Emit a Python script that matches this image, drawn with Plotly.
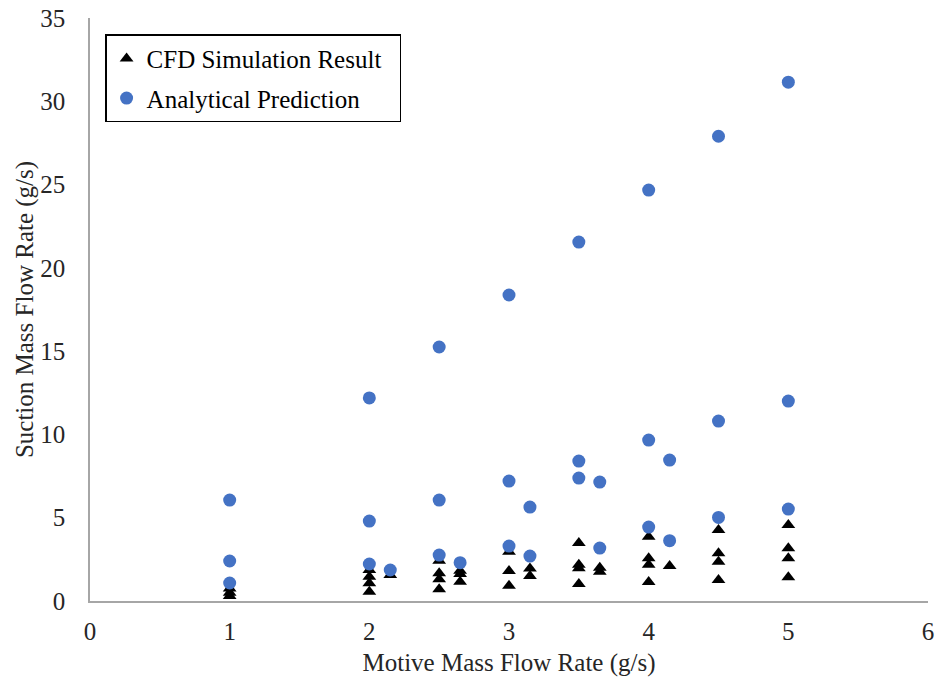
import plotly.graph_objects as go

# CFD Simulation Result (black triangles)
cfd_x = [1, 1, 1,
         2, 2, 2, 2,
         2.15,
         2.5, 2.5, 2.5, 2.5,
         2.65, 2.65, 2.65,
         3, 3, 3,
         3.15, 3.15,
         3.5, 3.5, 3.5, 3.5,
         3.65, 3.65,
         4, 4, 4, 4,
         4.15,
         4.5, 4.5, 4.5, 4.5,
         5, 5, 5, 5]
cfd_y = [0.3, 0.5, 0.75,
         1.86, 1.46, 1.06, 0.56,
         1.56,
         2.42, 1.66, 1.3, 0.7,
         1.82, 1.62, 1.16,
         2.95, 1.8, 0.92,
         1.95, 1.5,
         3.48, 2.17, 1.97, 1.02,
         2.0, 1.76,
         3.86, 2.56, 2.17, 1.14,
         2.1,
         4.26, 2.86, 2.36, 1.26,
         4.56, 3.16, 2.56, 1.42]

# Analytical Prediction (blue circles)
ana_x = [1, 1, 1,
         2, 2, 2,
         2.15,
         2.5, 2.5, 2.5,
         2.65,
         3, 3, 3,
         3.15, 3.15,
         3.5, 3.5, 3.5,
         3.65, 3.65,
         4, 4, 4,
         4.15, 4.15,
         4.5, 4.5, 4.5,
         5, 5, 5]
ana_y = [6.06, 2.4, 1.08,
         12.19, 4.8, 2.22,
         1.86,
         15.25, 6.06, 2.76,
         2.3,
         18.37, 7.2, 3.3,
         5.64, 2.7,
         21.55, 8.4, 7.38,
         7.14, 3.18,
         24.67, 9.66, 4.44,
         8.46, 3.62,
         27.9, 10.8, 5.02,
         31.15, 12.0, 5.52]

x_ticks = [0, 1, 2, 3, 4, 5, 6]
y_ticks = [0, 5, 10, 15, 20, 25, 30, 35]

font = "Liberation Serif"
fsize = 25
tcol = "#262626"

fig = go.Figure()
fig.add_trace(go.Scatter(
    x=cfd_x, y=cfd_y, mode="markers", name="CFD Simulation Result\u00a0\u00a0",
    legendgroup="a",
    marker=dict(symbol="triangle-up", size=12, color="black"),
))
fig.add_trace(go.Scatter(
    x=ana_x, y=ana_y, mode="markers", name="Analytical Prediction",
    legendgroup="b",
    marker=dict(symbol="circle", size=13, color="#4472C4"),
))

fig.update_layout(
    width=935, height=685,
    margin=dict(l=90, r=7, t=18, b=84, autoexpand=False),
    plot_bgcolor="white", paper_bgcolor="white",
    font=dict(family=font, size=fsize, color=tcol),
    showlegend=True,
    legend=dict(
        x=0.018, y=0.972, xanchor="left", yanchor="top",
        bordercolor="black", borderwidth=1.5,
        font=dict(family=font, size=fsize, color="black"),
        tracegroupgap=4, itemwidth=30,
        bgcolor="white",
    ),
    xaxis=dict(
        range=[0, 6], tickvals=x_ticks, showgrid=False, zeroline=False,
        showline=True, linecolor="#A6A6A6", linewidth=1.5,
        ticks="", ticklen=0, automargin=False, ticklabelstandoff=7,
        title=dict(text="Motive Mass Flow Rate (g/s)", standoff=10,
                   font=dict(family=font, size=fsize, color=tcol)),
        tickfont=dict(family=font, size=fsize, color=tcol),
    ),
    yaxis=dict(
        range=[0, 35], tickvals=y_ticks, showgrid=False, zeroline=False,
        showline=True, linecolor="#A6A6A6", linewidth=1.5,
        ticks="", ticklen=0, automargin=False, ticklabelstandoff=18,
        title=dict(text="Suction Mass Flow Rate (g/s)", standoff=0,
                   font=dict(family=font, size=fsize, color=tcol)),
        tickfont=dict(family=font, size=fsize, color=tcol),
    ),
)

fig.write_html("out.html")
